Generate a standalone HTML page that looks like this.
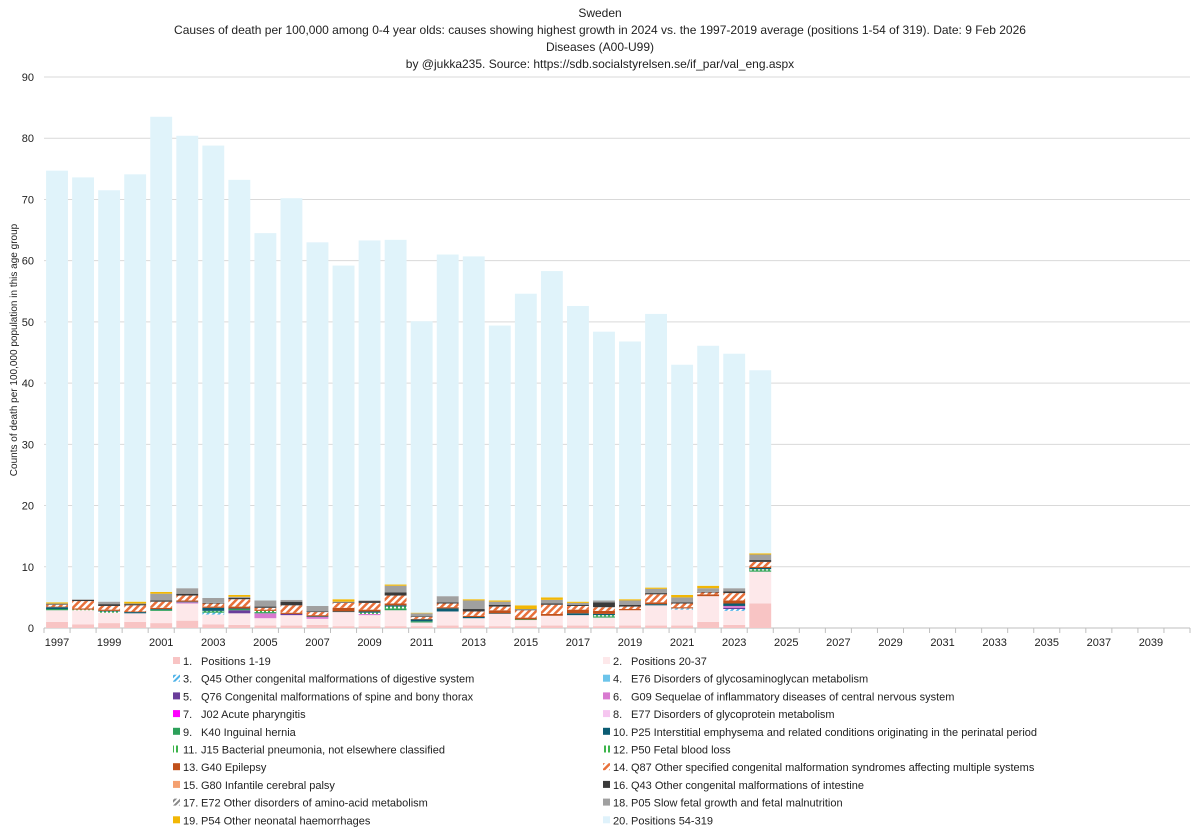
<!DOCTYPE html>
<html><head><meta charset="utf-8"><style>
body{margin:0;background:#fff;font-family:"Liberation Sans",sans-serif;}
svg text{font-family:"Liberation Sans",sans-serif;fill:#222;}
</style></head><body>
<svg id="c" width="1200" height="833" xmlns="http://www.w3.org/2000/svg">
<defs>
<pattern id="hatchO" width="5" height="5" patternUnits="userSpaceOnUse" patternTransform="rotate(45)"><rect width="5" height="5" fill="#fff"/><rect width="2.5" height="5" fill="#e8703a"/></pattern>
<pattern id="hatchB" width="4" height="4" patternUnits="userSpaceOnUse" patternTransform="rotate(45)"><rect width="4" height="4" fill="#fff"/><rect width="2" height="4" fill="#4fb3e8"/></pattern>
<pattern id="hatchG" width="4" height="4" patternUnits="userSpaceOnUse"><rect width="4" height="4" fill="#fff"/><rect width="2" height="4" fill="#3cb44b"/></pattern>
<pattern id="hatchK" width="4" height="4" patternUnits="userSpaceOnUse" patternTransform="rotate(45)"><rect width="4" height="4" fill="#fff"/><rect width="2" height="4" fill="#888"/></pattern>
</defs>
<g>
<text x="600" y="17" text-anchor="middle" font-size="12">Sweden</text>
<text x="600" y="34" text-anchor="middle" font-size="12">Causes of death per 100,000 among 0-4 year olds: causes showing highest growth in 2024 vs. the 1997-2019 average (positions 1-54 of 319). Date: 9 Feb 2026</text>
<text x="600" y="51" text-anchor="middle" font-size="12">Diseases (A00-U99)</text>
<text x="600" y="68" text-anchor="middle" font-size="12">by @jukka235. Source: https://sdb.socialstyrelsen.se/if_par/val_eng.aspx</text>
</g>
<text transform="translate(17,350) rotate(-90)" text-anchor="middle" font-size="10">Counts of death per 100,000 population in this age group</text>
<g id="grid"></g><g id="bars"></g><g id="xaxis"></g><g id="legend"></g>
</svg>
<script>
const years=[1997,1998,1999,2000,2001,2002,2003,2004,2005,2006,2007,2008,2009,2010,2011,2012,2013,2014,2015,2016,2017,2018,2019,2020,2021,2022,2023,2024];
const totals=[74.7,73.6,71.5,74.1,83.5,80.4,78.8,73.2,64.5,70.2,63.0,59.2,63.3,63.4,50.1,61.0,60.7,49.4,54.6,58.3,52.6,48.4,46.8,51.3,43.0,46.1,44.8,42.1];
const s1=[1.0,0.6,0.8,1.0,0.8,1.2,0.6,0.5,0.4,0.4,0.5,0.3,0.3,0.3,0.3,0.4,0.4,0.3,0.3,0.4,0.4,0.3,0.4,0.4,0.4,1.0,0.5,4.0];
const s2=[1.9,2.3,1.7,1.4,2.0,2.8,1.6,1.9,1.2,1.7,1.0,2.3,1.8,2.6,0.6,2.3,1.2,2.0,1.0,1.6,1.7,1.4,2.5,3.3,2.6,4.2,2.3,5.2];
const s3=[0,0,0,0,0,0,0.3,0,0,0,0,0,0,0,0,0,0,0,0,0,0,0,0,0,0.2,0,0.3,0];
const s5=[0,0,0,0,0,0,0,0.5,0,0.2,0,0,0,0,0,0,0,0,0,0,0,0,0,0,0,0,0.2,0];
const s6=[0,0,0,0,0,0.2,0,0,0.8,0,0.3,0,0.2,0,0,0,0,0,0,0,0,0,0,0,0,0,0.3,0];
const s9=[0.2,0,0,0,0.2,0,0.2,0.2,0.2,0,0,0,0,0.3,0.2,0,0,0,0.1,0,0,0.2,0,0,0,0,0,0.2];
const s11=[0,0.1,0.2,0,0,0,0.1,0,0.2,0,0,0,0.2,0.3,0,0,0,0,0,0,0,0.2,0,0,0,0,0,0.2];
const s10=[0.3,0,0.1,0.2,0.1,0.1,0.5,0.1,0,0,0.1,0.1,0.2,0.2,0.3,0.5,0.2,0.1,0,0,0.3,0.2,0,0.2,0,0,0.4,0.2];
const s13=[0.1,0.2,0.2,0.1,0.2,0.2,0.2,0.3,0.2,0.2,0.2,0.6,0.3,0.3,0.1,0.2,0.2,0.5,0.3,0.3,0.6,0.5,0.2,0.3,0.2,0.3,0.5,0.2];
const s14=[0.3,1.2,0.6,1.0,1.0,0.8,0.5,1.2,0.3,1.2,0.5,0.8,1.1,1.3,0.3,0.6,0.7,0.6,1.2,1.5,0.6,0.6,0.4,1.3,0.6,0.3,1.2,0.8];
const s16=[0.1,0.2,0.3,0.2,0.2,0.3,0.1,0.2,0.2,0.6,0.1,0.1,0.3,0.5,0.1,0.2,0.4,0.3,0.1,0.2,0.2,0.8,0.3,0.2,0.2,0.1,0.3,0.3];
const s18=[0.1,0.1,0.4,0.1,1.1,0.9,0.8,0.2,1.0,0.3,0.9,0.1,0.1,1.1,0.5,1.0,1.4,0.5,0.1,0.6,0.3,0.3,0.7,0.7,0.8,0.6,0.5,0.9];
const s19=[0.2,0,0,0.3,0.3,0,0,0.3,0,0,0,0.4,0,0.2,0.1,0,0.2,0.2,0.6,0.4,0.2,0,0.2,0.2,0.4,0.4,0,0.2];
const yTicks=[0,10,20,30,40,50,60,70,80,90];
const xFirst=1997, xLast=2040;
const legendLabels=["Positions 1-19","Positions 20-37","Q45 Other congenital malformations of digestive system","E76 Disorders of glycosaminoglycan metabolism","Q76 Congenital malformations of spine and bony thorax","G09 Sequelae of inflammatory diseases of central nervous system","J02 Acute pharyngitis","E77 Disorders of glycoprotein metabolism","K40 Inguinal hernia","P25 Interstitial emphysema and related conditions originating in the perinatal period","J15 Bacterial pneumonia, not elsewhere classified","P50 Fetal blood loss","G40 Epilepsy","Q87 Other specified congenital malformation syndromes affecting multiple systems","G80 Infantile cerebral palsy","Q43 Other congenital malformations of intestine","E72 Other disorders of amino-acid metabolism","P05 Slow fetal growth and fetal malnutrition","P54 Other neonatal haemorrhages","Positions 54-319"];
const legendColors=["#f8c4c4","#fde8ea","url(#hatchB)","#6cc4ea","#6a3d9a","#d87ad0","#ff00ff","#f6c6f0","#2ca05a","#0b5c73","url(#hatchG)","url(#hatchG)","#c0501a","url(#hatchO)","#f4a070","#3a3a3a","url(#hatchK)","#a0a0a0","#f2b705","#dff2fb"];
const NS="http://www.w3.org/2000/svg";
const X0=44,X1=1190,Y0=628,Y90=77;
const slot=(X1-X0)/(xLast-xFirst+1);
const y=v=>Y0-(v/90)*(Y0-Y90);
const xc=yr=>X0+(yr-xFirst+0.5)*slot;
function mk(tag,attrs,parent){const e=document.createElementNS(NS,tag);for(const k in attrs)e.setAttribute(k,attrs[k]);parent.appendChild(e);return e;}
const grid=document.getElementById('grid');
yTicks.forEach(t=>{
 const l=mk('line',{x1:X0,x2:X1,y1:y(t),y2:y(t),stroke:t===0?'#bfbfbf':'#d9d9d9','stroke-width':1},grid);
 
 
 const tx=mk('text',{x:34,y:y(t)+4,'text-anchor':'end','font-size':11},grid);tx.textContent=t;
 
 
});
const series=[[s1,"#f8c4c4"],[s2,"#fde8ea"],[s3,"url(#hatchB)"],[s5,"#6a3d9a"],[s6,"#d87ad0"],[s9,"#2ca05a"],[s11,"url(#hatchG)"],[s10,"#0b5c73"],[s13,"#c0501a"],[s14,"url(#hatchO)"],[s16,"#3a3a3a"],[s18,"#a0a0a0"],[s19,"#f2b705"]];
const bars=document.getElementById('bars');
const bw=slot*0.84;
years.forEach((yr,i)=>{
 let acc=0;
 series.forEach(([arr,col],si)=>{
  const v=arr[i];if(!v)return;
  const r=mk('rect',{x:xc(yr)-bw/2,y:y(acc+v),width:bw,height:y(acc)-y(acc+v),fill:col},bars);
  
  
  acc+=v;
 });
 const r=mk('rect',{x:xc(yr)-bw/2,y:y(totals[i]),width:bw,height:y(acc)-y(totals[i]),fill:"#e0f3fa"},bars);
 
 
});
const xa=document.getElementById('xaxis');
for(let yr=xFirst;yr<=xLast+1;yr++){
 const xx=X0+(yr-xFirst)*slot;
 mk('line',{x1:xx,x2:xx,y1:Y0,y2:Y0+5,stroke:'#bfbfbf'},xa);
 if(yr<=xLast&&(yr-xFirst)%2===0){
  const t=mk('text',{x:xc(yr),y:646,'text-anchor':'middle','font-size':11},xa);t.textContent=yr;
  
  
 }
}
const lg=document.getElementById('legend');
legendLabels.forEach((lab,i)=>{
 const col=i%2, row=Math.floor(i/2);
 const bx=col?603:173, by=661+row*17.7;
 const g=mk('g',{},lg);
 
 
 mk('rect',{x:bx,y:by-4,width:7,height:7,fill:legendColors[i]},g);
 const t1=mk('text',{x:bx+10,y:by+4,'font-size':11},g);t1.textContent=(i+1)+'.';
 const t2=mk('text',{x:bx+28,y:by+4,'font-size':11},g);t2.textContent=lab;
});
</script>
</body></html>
